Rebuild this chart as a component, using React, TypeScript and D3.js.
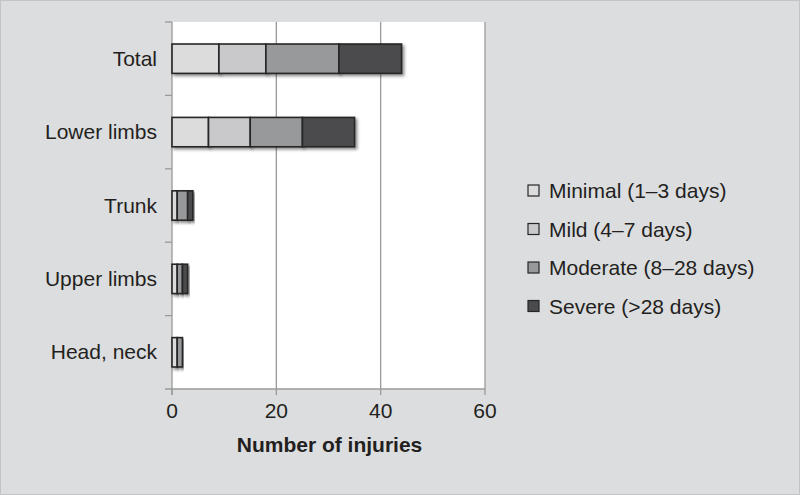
import React from "react";
import * as d3 from "d3";

const categories = ["Total", "Lower limbs", "Trunk", "Upper limbs", "Head, neck"];
const seriesNames = ["Minimal (1–3 days)", "Mild (4–7 days)", "Moderate (8–28 days)", "Severe (>28 days)"];
const minimal = [9, 7, 1, 1, 1];
const mild = [9, 8, 0, 0, 0];
const moderate = [14, 10, 2, 1, 1];
const severe = [12, 10, 1, 1, 0];
const xTicks = [0, 20, 40, 60];
const colors = ["#dcdcdd", "#c9c9cb", "#98999b", "#4b4b4d"];

const W = 800, H = 495;
const plot = { left: 172, right: 485, top: 22, bottom: 389 };
const font = "Liberation Sans, Arial, Helvetica, sans-serif";
const FS = 21;

export default function App() {
  React.useEffect(() => {
    document.body.style.margin = "0";
  }, []);

  const x = d3.scaleLinear().domain([0, 60]).range([plot.left, plot.right]);
  const y = d3.scaleBand().domain(categories).range([plot.top, plot.bottom]).paddingInner(0.6).paddingOuter(0.3);
  const yOuter = d3.scaleBand().domain(categories).range([plot.top, plot.bottom]);

  const table = categories.map((c, i) => ({
    cat: c, s0: minimal[i], s1: mild[i], s2: moderate[i], s3: severe[i],
  }));
  const stack = d3.stack<any>().keys(["s0", "s1", "s2", "s3"])(table);

  const legendY = (i: number) => 191 + i * 38.5;

  return (
    <svg width={W} height={H} style={{ display: "block", fontFamily: font }}>
      <defs>
        <filter id="sh" x="-20%" y="-20%" width="150%" height="160%">
          <feDropShadow dx="2" dy="2" stdDeviation="1.6" floodColor="#000" floodOpacity="0.45" />
        </filter>
      </defs>
      <rect x={0.5} y={0.5} width={W - 1} height={H - 1} fill="#dcdddf" stroke="#c4c4c6" />
      <rect x={plot.left} y={plot.top} width={plot.right - plot.left} height={plot.bottom - plot.top} fill="#ffffff" />
      {xTicks.filter((t) => t > 0).map((t) => (
        <line key={t} x1={x(t)} x2={x(t)} y1={plot.top} y2={plot.bottom} stroke="#9a9a9a" strokeWidth={1.3} />
      ))}
      {/* y axis */}
      <line x1={plot.left} x2={plot.left} y1={plot.top} y2={plot.bottom + 6} stroke="#9a9a9a" strokeWidth={1.3} />
      {categories.map((c) => (
        <line key={c} x1={plot.left - 7} x2={plot.left} y1={yOuter(c)!} y2={yOuter(c)!} stroke="#9a9a9a" strokeWidth={1.3} />
      ))}
      {/* x axis */}
      <line x1={plot.left - 7} x2={plot.right} y1={plot.bottom} y2={plot.bottom} stroke="#9a9a9a" strokeWidth={1.3} />
      {xTicks.map((t) => (
        <g key={t}>
          <line x1={x(t)} x2={x(t)} y1={plot.bottom} y2={plot.bottom + 6} stroke="#9a9a9a" strokeWidth={1.3} />
          <text x={x(t)} y={plot.bottom + 29} textAnchor="middle" fontSize={FS} fill="#231f20">{t}</text>
        </g>
      ))}
      <text x={(plot.left + plot.right) / 2 + 1} y={452} textAnchor="middle" fontSize={FS} fontWeight="bold" fill="#231f20">
        Number of injuries
      </text>
      {categories.map((c) => (
        <text key={c} x={plot.left - 15} y={y(c)! + y.bandwidth() / 2 + 7} textAnchor="end" fontSize={FS} fill="#231f20">
          {c}
        </text>
      ))}
      {/* bars */}
      {stack.map((layer, si) =>
        layer.map((d, ci) => {
          const w = x(d[1]) - x(d[0]);
          if (w <= 0) return null;
          return (
            <rect key={si + "-" + ci} x={x(d[0])} y={y(categories[ci])!} width={w} height={y.bandwidth()}
              fill={colors[si]} stroke="#262626" strokeWidth={1.6} filter="url(#sh)" />
          );
        })
      )}
      {/* legend */}
      {seriesNames.map((n, i) => (
        <g key={n}>
          <rect x={528} y={legendY(i) - 6} width={11} height={11} fill={colors[i]} stroke="#262626" strokeWidth={1.2} />
          <text x={549} y={legendY(i) + 7} fontSize={FS} fill="#231f20">{n}</text>
        </g>
      ))}
    </svg>
  );
}
